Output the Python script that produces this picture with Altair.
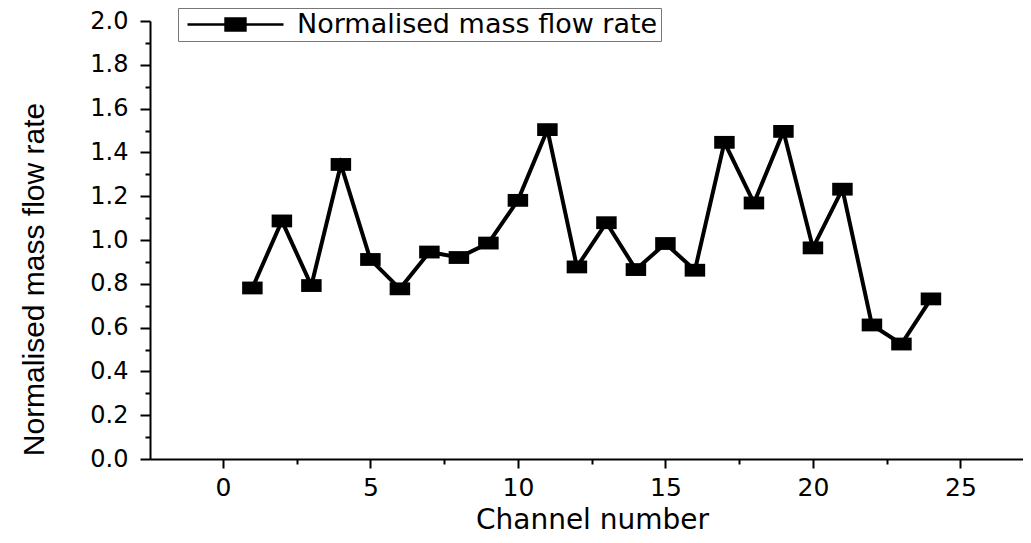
import altair as alt
import pandas as pd

# ---- data ----
channels = list(range(1, 25))
flow = [0.781, 1.087, 0.792, 1.345, 0.911, 0.777, 0.945, 0.920, 0.986, 1.181,
        1.504, 0.877, 1.079, 0.865, 0.984, 0.862, 1.446, 1.169, 1.496, 0.964,
        1.232, 0.612, 0.525, 0.731]
series_name = "Normalised mass flow rate"
x_tick_values = [0, 2.5, 5, 7.5, 10, 12.5, 15, 17.5, 20, 22.5, 25]
y_tick_values = [round(i * 0.1, 1) for i in range(21)]

df = pd.DataFrame({"channel": channels, "flow": flow, "series": [series_name] * len(channels)})

rect_marker = "M-1,-0.625L1,-0.625L1,0.625L-1,0.625Z"
# legend symbol: unit size 24px -> line spans +-4 units (96px), square 20x12px
legend_symbol = ("M-4,0L-0.83,0M0.83,0L4,0"
                 "M-0.83,-0.5L0.83,-0.5L0.83,0.5L-0.83,0.5Z")

x_enc = alt.X(
    "channel:Q",
    scale=alt.Scale(domain=[-2.47, 27.12], nice=False, zero=False),
    axis=alt.Axis(
        values=x_tick_values,
        labelExpr="datum.value % 5 === 0 ? datum.label : ''",
        tickSize={"condition": {"test": "datum.value % 5 === 0", "value": 9}, "value": 5},
        labelPadding=7,
        labelFont="DejaVu Sans", labelFontSize=25, labelColor="black",
        domainColor="black", domainWidth=2, tickColor="black", tickWidth=2,
        grid=False,
        title="Channel number", titleFont="DejaVu Sans", titleFontSize=28,
        titleFontWeight="normal", titleColor="black",
        titleX=442, titleY=69, titleAlign="center", titleBaseline="alphabetic",
    ),
)
y_enc = alt.Y(
    "flow:Q",
    scale=alt.Scale(domain=[0, 2.0], nice=False),
    axis=alt.Axis(
        values=y_tick_values,
        labelExpr="round(datum.value*10) % 2 === 0 ? format(datum.value, '.1f') : ''",
        tickSize={"condition": {"test": "round(datum.value*10) % 2 === 0", "value": 10}, "value": 5},
        labelPadding=12,
        labelFont="DejaVu Sans", labelFontSize=24, labelColor="black",
        domainColor="black", domainWidth=2, tickColor="black", tickWidth=2,
        grid=False,
        title="Normalised mass flow rate", titleFont="Liberation Sans", titleFontSize=30,
        titleFontWeight="normal", titleColor="black", titleAngle=270,
        titleX=-107, titleY=258, titleAlign="center", titleBaseline="alphabetic",
    ),
)

line = alt.Chart(df).mark_line(color="black", strokeWidth=4).encode(x=x_enc, y=y_enc)

points = alt.Chart(df).mark_point(shape=rect_marker, filled=True, size=420, opacity=1).encode(
    x=x_enc,
    y=y_enc,
    color=alt.Color(
        "series:N",
        scale=alt.Scale(range=["black"]),
        legend=alt.Legend(
            title=None, orient="none", legendX=28, legendY=-13,
            symbolType=legend_symbol, symbolSize=576,
            symbolFillColor="black", symbolStrokeColor="black", symbolStrokeWidth=2.5,
            symbolOffset=41,
            labelFont="DejaVu Sans", labelFontSize=27, labelColor="black",
            labelOffset=48, labelLimit=800,
            strokeColor="#777777", fillColor="white", padding=3,
        ),
    ),
)

chart = (
    alt.layer(line, points)
    .properties(
        width=873, height=438,
        autosize=alt.AutoSizeParams(type="none"),
        padding={"left": 142, "top": 13, "right": 0, "bottom": 76},
        background="white",
    )
    .configure_view(stroke=None)
)

chart.save("out.html", embed_options={"renderer": "svg", "actions": False})
